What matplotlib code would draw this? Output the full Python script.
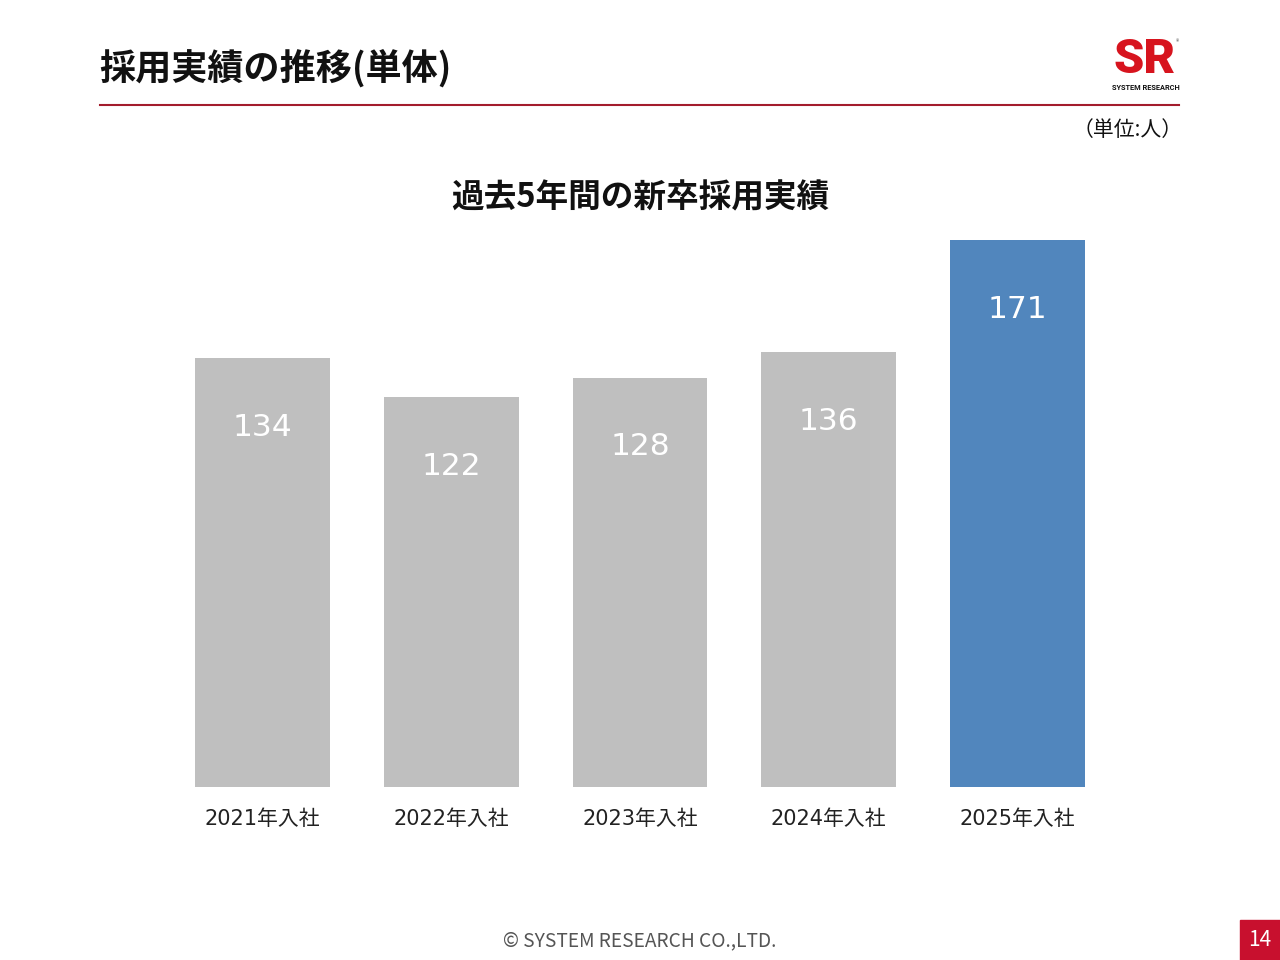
import matplotlib
matplotlib.use("Agg")
import matplotlib.pyplot as plt
from matplotlib.patches import Rectangle
from matplotlib.lines import Line2D

plt.rcParams['font.family'] = ['Noto Sans CJK JP', 'DejaVu Sans']

# data
years = ["2021年入社", "2022年入社", "2023年入社", "2024年入社", "2025年入社"]
hires = [134, 122, 128, 136, 171]
bar_colors = ["#bfbfbf", "#bfbfbf", "#bfbfbf", "#bfbfbf", "#5186bd"]

W, H = 1280, 960
fig = plt.figure(figsize=(W / 100, H / 100), dpi=100)


def fx(px):
    return px / W


def fy(py):
    return 1 - py / H


# header
fig.text(fx(99), fy(68), "採用実績の推移(単体)", fontsize=26, fontweight="bold",
         color="#111111", ha="left", va="center")
fig.add_artist(Line2D([fx(100), fx(1179)], [fy(105), fy(105)], color="#a31c2c", lw=1.5))
fig.text(fx(1183), fy(130), "（単位:人）", fontsize=15, color="#111111", ha="right", va="center")

# logo
fig.text(fx(1145), fy(60), "SR", fontsize=35, fontweight="black", color="#d7141e",
         ha="center", va="center", family="Roboto")
fig.text(fx(1146), fy(88), "SYSTEM RESEARCH", fontsize=5.3, color="#111111",
         ha="center", va="center", family="Roboto", fontweight="bold")
fig.text(fx(1178), fy(42), "®", fontsize=5, color="#555555", ha="center", va="center")

# chart title
fig.text(fx(640), fy(198), "過去5年間の新卒採用実績", fontsize=23.5, fontweight="bold",
         color="#111111", ha="center", va="center")

# bars
ax = fig.add_axes([fx(168), fy(787), fx(1112) - fx(168), (787 - 240) / H])
x = range(len(years))
bars = ax.bar(x, hires, width=0.715, color=bar_colors)
ax.set_xlim(-0.5, 4.5)
ax.set_ylim(0, max(hires))
for b, v in zip(bars, hires):
    ax.annotate(str(v), (b.get_x() + b.get_width() / 2, v), xytext=(0, -50),
                textcoords="offset points", ha="center", va="center",
                fontsize=22.5, color="white", family=["DejaVu Sans"])
ax.set_xticks(list(x))
ax.set_xticklabels(years, fontsize=15, color="#222222",
                   family=["DejaVu Sans", "Noto Sans CJK JP"])
ax.tick_params(axis="x", length=0, pad=16)
ax.set_yticks([])
for s in ax.spines.values():
    s.set_visible(False)

# footer
fig.text(fx(640), fy(941), "© SYSTEM RESEARCH CO.,LTD.", fontsize=13.8, color="#555555",
         ha="center", va="center")
fig.add_artist(Rectangle((fx(1240), 0), fx(40), 40 / H, transform=fig.transFigure,
                         color="#c8102e"))
fig.text(fx(1260), fy(940), "14", fontsize=15, color="white", ha="center", va="center")

fig.savefig("out.png", dpi=100)
